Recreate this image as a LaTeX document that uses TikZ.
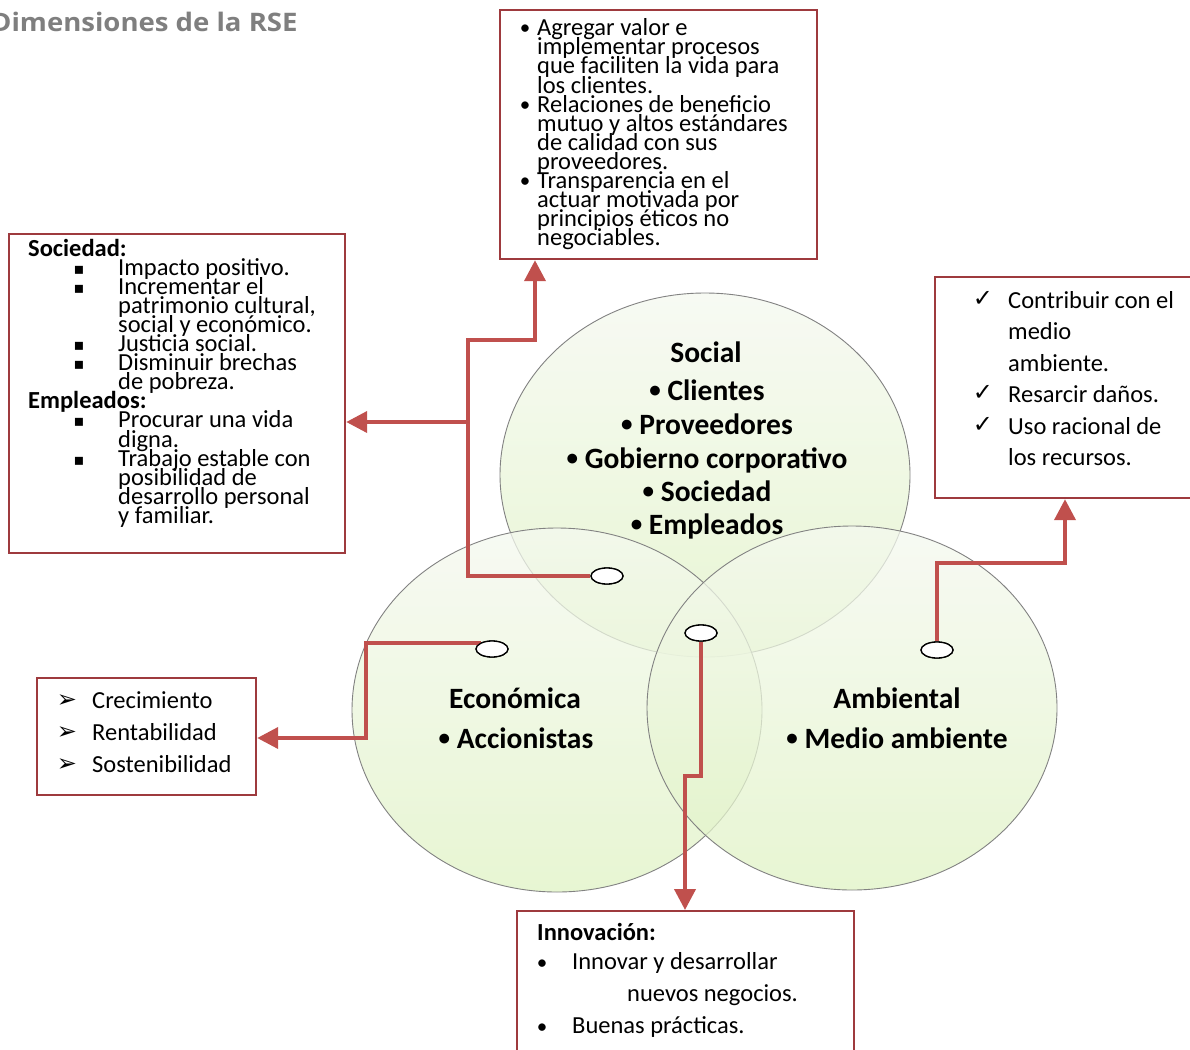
\documentclass[tikz,border=0pt]{standalone}
\usepackage{graphicx}
\usepackage{fontspec}
\setmainfont{Carlito}
\newfontfamily\dejavu{DejaVu Sans}
\newfontfamily\titlefont{Open Sans}
\usetikzlibrary{shapes.geometric,arrows.meta}
\definecolor{linered}{RGB}{192,80,77}
\definecolor{boxred}{RGB}{158,58,62}
\definecolor{cgreen}{RGB}{224,243,196}
\definecolor{ctop}{RGB}{245,249,240}
\definecolor{circedge}{RGB}{130,130,130}
\definecolor{titlegray}{RGB}{127,127,127}
\newcommand{\smbul}{\raisebox{2.5pt}{\fontsize{23}{24}\selectfont •}}
\begin{document}
\begin{tikzpicture}[x=1pt,y=-1pt,
  boxtxt/.style={anchor=base west, inner sep=0pt, font=\fontsize{24.5}{26}\selectfont},
  boxbold/.style={anchor=base west, inner sep=0pt, font=\fontsize{24.5}{26}\selectfont\bfseries},
  bul/.style={anchor=base, inner sep=0pt, font=\fontsize{21}{22}\selectfont},
  sqbul/.style={anchor=base, inner sep=0pt, font=\dejavu\fontsize{16}{18}\selectfont},
  ckbul/.style={anchor=base, inner sep=0pt, font=\dejavu\fontsize{24}{26}\selectfont},
  circtxt/.style={anchor=base, inner sep=0pt, font=\fontsize{29.5}{30}\selectfont\bfseries},
  infobox/.style={draw=boxred, line width=2.2pt, fill=white, inner sep=0pt, anchor=north west},
  circ/.style={ellipse, draw=circedge, line width=0.9pt, inner sep=0pt,
     minimum width=410pt, minimum height=364pt,
     top color=ctop, bottom color=cgreen, fill opacity=0.75, draw opacity=1},
  arr/.style={draw=linered, line width=4pt, -{Triangle[length=21pt,width=21pt]}},
  portoval/.style={ellipse, draw=black, line width=1.3pt, fill=white,
     minimum width=32pt, minimum height=16pt, inner sep=0pt}
]
\useasboundingbox (0,0) rectangle (1190,1049);
\fill[white] (0,0) rectangle (1190,1049);

% title
\node[anchor=base west, inner sep=0pt, text=titlegray,
  font=\titlefont\fontsize{25.5}{26}\selectfont\bfseries] (title) at (-9,32)
  {\scalebox{1.08}[1]{Dimensiones de la RSE}};

% circles
\node[circ] (social) at (705,475) {};
\node[circ] (econ) at (557,710) {};
\node[circ] (amb) at (852,708) {};

% circle texts
\node[circtxt] (soc0) at (706,362) {Social};
\foreach [count=\i] \y/\t in {400/{\smbul\ Clientes},434/{\smbul\ Proveedores},468/{\smbul\ Gobierno corporativo},501/{\smbul\ Sociedad},534/{\smbul\ Empleados}}
  \node[circtxt] (soc\i) at (707,\y) {\t};
\node[circtxt] (eco0) at (515,708) {Económica};
\node[circtxt] (eco1) at (516,748) {\smbul\ Accionistas};
\node[circtxt] (amb0) at (897,708) {Ambiental};
\node[circtxt] (amb1) at (897,748) {\smbul\ Medio ambiente};

% boxes
\node[infobox, minimum width=317pt, minimum height=249pt] (topbox) at (499,9) {};
\node[infobox, minimum width=336pt, minimum height=319pt] (leftbox) at (8,233) {};
\node[infobox, minimum width=270pt, minimum height=221pt] (rightbox) at (934,276) {};
\node[infobox, minimum width=219pt, minimum height=117pt] (smallbox) at (36,677) {};
\node[infobox, minimum width=337pt, minimum height=160pt] (botbox) at (516,910) {};

% connection ovals
\node[portoval] (socdot) at (607,576) {};
\node[portoval] (ecodot) at (492,649) {};
\node[portoval] (cendot) at (701,633) {};
\node[portoval] (ambdot) at (937,650) {};

% connectors
\draw[arr] (socdot.west) -| (468,340) -| (535,0 |- topbox.south);
\draw[arr] (468,422) -- (leftbox.east |- 0,422);
\draw[arr] (ecodot.150) -| (366,738) -- (smallbox.east |- 0,738);
\draw[arr] (cendot.south) |- (685,776) -- (685,0 |- botbox.north);
\draw[arr] (ambdot.north) |- (1065,563) -- (1065,0 |- rightbox.south);

% redraw ovals on top
\node[portoval] at (socdot) {};
\node[portoval] at (ecodot) {};
\node[portoval] at (cendot) {};
\node[portoval] at (ambdot) {};

% top box text
\foreach [count=\i] \y/\t in {36/{Agregar valor e},55/{implementar procesos},74/{que faciliten la vida para},93/{los clientes.},112/{Relaciones de beneficio},131/{mutuo y altos estándares},150/{de calidad con sus},169/{proveedores.},188/{Transparencia en el},207/{actuar motivada por},226/{principios éticos no},245/{negociables.}}
  \node[boxtxt] (tt\i) at (537,\y) {\t};
\foreach [count=\i] \y in {35,111,187}
  \node[bul] (tb\i) at (525,\y) {•};

% left box text
\node[boxbold] (lsoc) at (28,256) {Sociedad:};
\node[boxbold] (lemp) at (28,408.8) {Empleados:};
\foreach [count=\i] \y/\t in {275.1/{Impacto positivo.},294.2/{Incrementar el},313.3/{patrimonio cultural,},332.4/{social y económico.},351.5/{Justicia social.},370.6/{Disminuir brechas},389.7/{de pobreza.},427.9/{Procurar una vida},447/{digna.},466.1/{Trabajo estable con},485.2/{posibilidad de},504.3/{desarrollo personal},523.4/{y familiar.}}
  \node[boxtxt] (lt\i) at (118,\y) {\t};
\foreach [count=\i] \y in {275.1,294.2,351.5,370.6,427.9,466.1}
  \node[sqbul] (lb\i) at (79,\y-1) {▪};

% right box text
\foreach [count=\i] \y/\t in {308/{Contribuir con el},339.5/{medio},371/{ambiente.},402/{Resarcir daños.},434/{Uso racional de},465/{los recursos.}}
  \node[boxtxt] (rt\i) at (1008,\y) {\t};
\foreach [count=\i] \y in {306,400,432}
  \node[ckbul] (rb\i) at (983,\y) {✓};

% small box text
\foreach [count=\i] \y/\t in {708/{Crecimiento},740/{Rentabilidad},772/{Sostenibilidad}}
  \node[boxtxt] (st\i) at (92,\y) {\t};
\foreach [count=\i] \y in {707,739,771}
  \node[ckbul] (sb\i) at (67,\y) {➢};

% bottom box text
\node[boxbold] (binn) at (537,940) {Innovación:};
\node[boxtxt] (bt1) at (572,969) {Innovar y desarrollar};
\node[boxtxt] (bt2) at (627,1001) {nuevos negocios.};
\node[boxtxt] (bt3) at (572,1033) {Buenas prácticas.};
\node[bul] (bb1) at (542,969) {•};
\node[bul] (bb2) at (542,1033) {•};
\end{tikzpicture}
\end{document}
